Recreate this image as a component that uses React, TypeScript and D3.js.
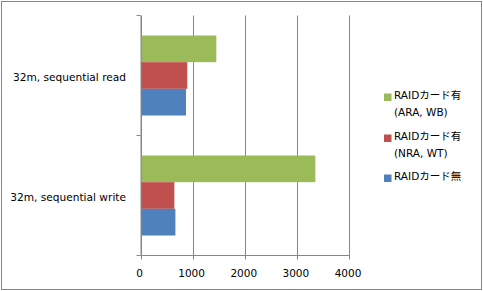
import React from "react";
import * as d3 from "d3";

const categories = ["32m, sequential read", "32m, sequential write"];
const seriesNames = [
  ["RAIDカード有", "(ARA, WB)"],
  ["RAIDカード有", "(NRA, WT)"],
  ["RAIDカード無"],
];
const seriesColors = ["#9BBB59", "#C0504D", "#4F81BD"];
// values per series, per category
const greenValues = [1445, 3345];
const redValues = [888, 640];
const blueValues = [863, 660];
const xTicks = [0, 1000, 2000, 3000, 4000];

const W = 483;
const H = 291;
const FONT = "'DejaVu Sans', 'Noto Sans CJK JP', sans-serif";

export default function App() {
  const values = [greenValues, redValues, blueValues];
  const plot = { left: 140.5, right: 349, top: 15.5, bottom: 255.5 };
  const x = d3.scaleLinear().domain([0, 4000]).range([plot.left, plot.right]);
  const y = d3
    .scaleBand<string>()
    .domain(categories)
    .range([plot.top, plot.bottom])
    .paddingInner(0)
    .paddingOuter(0);
  const band = y.bandwidth();
  const groupH = band / (3 + 1.5);
  const gap = (band - groupH * 3) / 2;

  const legendY = [94.5, 135.5, 175.5];

  return (
    <svg
      width={W}
      height={H}
      style={{ position: "absolute", left: 0, top: 0, fontFamily: FONT }}
    >
      <rect x={0} y={0} width={W} height={H} fill="#fff" />
      <rect x={1.5} y={1.5} width={W - 3} height={H - 3} fill="none" stroke="#888" strokeWidth={1} />
      {/* gridlines */}
      {xTicks.map((t) => (
        <line
          key={t}
          x1={Math.round(x(t)) + 0.5}
          x2={Math.round(x(t)) + 0.5}
          y1={plot.top}
          y2={plot.bottom + 4}
          stroke="#868686"
          strokeWidth={1}
        />
      ))}
      {/* bars */}
      {categories.map((c, ci) =>
        values.map((vals, si) => (
          <rect
            key={c + si}
            x={x(0) + 0.5}
            y={(y(c) as number) + gap + groupH * si}
            width={x(vals[ci]) - x(0)}
            height={groupH}
            fill={seriesColors[si]}
          />
        ))
      )}
      {/* y axis */}
      <line x1={x(0) + 0.5} x2={x(0) + 0.5} y1={plot.top} y2={plot.bottom} stroke="#868686" />
      <line x1={x(0)} x2={plot.right + 0.5} y1={plot.bottom} y2={plot.bottom} stroke="#868686" />
      {[0, 1, 2].map((i) => (
        <line
          key={i}
          x1={x(0) - 4}
          x2={x(0)}
          y1={plot.top + band * i}
          y2={plot.top + band * i}
          stroke="#868686"
        />
      ))}
      {/* x tick labels */}
      {xTicks.map((t) => (
        <text
          key={t}
          x={x(t) - 1}
          y={273}
          textAnchor="middle"
          dominantBaseline="central"
          fontSize={10.5}
          fill="#000"
        >
          {t}
        </text>
      ))}
      {/* category labels */}
      {categories.map((c) => (
        <text
          key={c}
          x={126}
          y={(y(c) as number) + band / 2 + 1}
          textAnchor="end"
          dominantBaseline="central"
          fontSize={10.6}
          fill="#000"
        >
          {c}
        </text>
      ))}
      {/* legend */}
      {seriesNames.map((lines, i) => (
        <g key={i}>
          <rect x={384} y={legendY[i] - 1} width={7.5} height={7.5} fill={seriesColors[i]} />
          {lines.map((l, li) => (
            <text
              key={li}
              x={394}
              y={legendY[i] + li * 17}
              dominantBaseline="central"
              fontSize={10.5}
              fill="#000"
            >
              {l}
            </text>
          ))}
        </g>
      ))}
    </svg>
  );
}
